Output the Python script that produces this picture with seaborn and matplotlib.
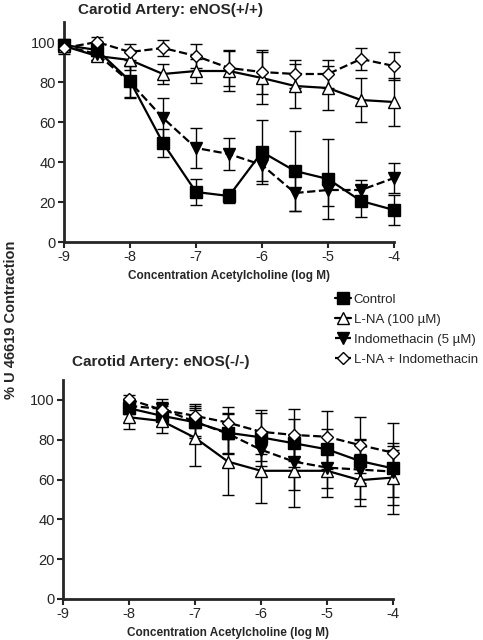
import numpy as np
import pandas as pd
import seaborn as sns
import matplotlib.pyplot as plt

# concentraciones (log M)
x_top = [-9, -8.5, -8, -7.5, -7, -6.5, -6, -5.5, -5, -4.5, -4]
x_bot = [-8, -7.5, -7, -6.5, -6, -5.5, -5, -4.5, -4]

# eNOS(+/+)
ctrl_top = [98.5, 96, 80.5, 49.5, 25, 23, 45, 35.5, 31.5, 20.5, 16]
ctrl_top_err = [3, 3, 8, 7, 6.5, 3.5, 16, 20, 20, 8, 7.5]
lna_top = [98, 93, 91, 84, 85.5, 85.5, 82, 78, 77, 71, 70]
lna_top_err = [2, 2, 5, 5, 6, 10, 13, 11, 11, 11, 12]
indo_top = [98, 94, 80, 62, 47, 44, 38.5, 24.5, 26, 26, 32]
indo_top_err = [3, 3, 8, 10, 10, 8, 8, 9, 8, 5, 7.5]
comb_top = [97, 100, 95, 97, 93, 87, 85, 84, 84, 91.5, 88]
comb_top_err = [3, 2.5, 4, 4, 6, 9, 11, 7, 7, 5.5, 7]

# eNOS(-/-)
ctrl_bot = [95.8, 92, 88.8, 83.5, 81.2, 78.2, 75.2, 69.3, 65.6]
ctrl_bot_err = [3, 5, 7, 10, 12, 12, 10, 11, 23]
lna_bot = [91.3, 89.4, 81, 69, 64.4, 64.4, 64.4, 59.7, 61]
lna_bot_err = [6, 6, 14, 17, 16, 18, 13, 13, 14]
indo_bot = [97, 95.5, 89, 83, 75, 69, 66, 65, 64]
indo_bot_err = [3, 5, 8, 10, 8, 14, 10, 15, 13]
comb_bot = [100.3, 95, 92, 88.6, 84, 82.4, 81.5, 77.3, 73.5]
comb_bot_err = [2, 4, 6, 8, 11, 13, 13, 14, 5]

labels = ['Control', 'L-NA (100 µM)', 'Indomethacin (5 µM)', 'L-NA + Indomethacin']
markers = ['s', '^', 'v', 'D']
faces = ['black', 'white', 'black', 'white']
styles = ['-', '-', '--', '--']
msizes = [8, 8, 8, 6]

sns.set_style('ticks')
plt.rcParams['font.family'] = ['Liberation Sans', 'DejaVu Sans']
plt.rcParams['axes.unicode_minus'] = False

fig = plt.figure(figsize=(4.83, 6.4), dpi=100)
ax1 = fig.add_axes([64 / 483, 398 / 640, 330 / 483, 220 / 640])
ax2 = fig.add_axes([63 / 483, 41 / 640, 330 / 483, 219 / 640])


def panel(ax, x, series, errs):
    for i, (y, e) in enumerate(zip(series, errs)):
        eb = ax.errorbar(x, y, yerr=e, fmt='none', ecolor='black', elinewidth=1,
                         capsize=4, capthick=1, zorder=2)
        for art in eb.lines[1] + eb.lines[2]:
            art.set_clip_on(False)
        df = pd.DataFrame({'x': x, 'y': y})
        sns.lineplot(data=df, x='x', y='y', ax=ax, color='black',
                     linestyle=styles[i], linewidth=1.6, marker=markers[i],
                     markersize=msizes[i], markerfacecolor=faces[i],
                     markeredgecolor='black', markeredgewidth=1,
                     label=labels[i], zorder=3, clip_on=False)
    ax.set_xlim(-9, -4)
    ax.set_ylim(0, 110)
    ax.set_xticks([-9, -8, -7, -6, -5, -4])
    ax.set_yticks([0, 20, 40, 60, 80, 100])
    ax.set_xlabel('Concentration Acetylcholine (log M)', fontsize=8.5,
                  fontweight='bold', labelpad=4)
    ax.set_ylabel('')
    for s in ['left', 'bottom']:
        ax.spines[s].set_linewidth(2)
    sns.despine(ax=ax)
    ax.tick_params(labelsize=10.5, width=1.5, length=4, pad=2)
    ax.get_legend().remove()


panel(ax1, x_top, [ctrl_top, lna_top, indo_top, comb_top],
      [ctrl_top_err, lna_top_err, indo_top_err, comb_top_err])
panel(ax2, x_bot, [ctrl_bot, lna_bot, indo_bot, comb_bot],
      [ctrl_bot_err, lna_bot_err, indo_bot_err, comb_bot_err])

fig.text(78 / 483, 1 - 10 / 640, 'Carotid Artery: eNOS(+/+)', fontsize=11,
         fontweight='bold', va='center', ha='left')
fig.text(72 / 483, 1 - 362 / 640, 'Carotid Artery: eNOS(-/-)', fontsize=11,
         fontweight='bold', va='center', ha='left')

handles, lbls = ax1.get_legend_handles_labels()
fig.legend(handles[:4], lbls[:4], loc='upper left',
           bbox_to_anchor=(330 / 483, 1 - 288 / 640), frameon=False,
           fontsize=9.5, handlelength=1.2, handletextpad=0.2,
           labelspacing=0.6, borderaxespad=0)

fig.text(0.022, 0.5, '% U 46619 Contraction', rotation=90, va='center',
         ha='center', fontsize=10.5, fontweight='bold')

fig.savefig('out.png', dpi=100)
